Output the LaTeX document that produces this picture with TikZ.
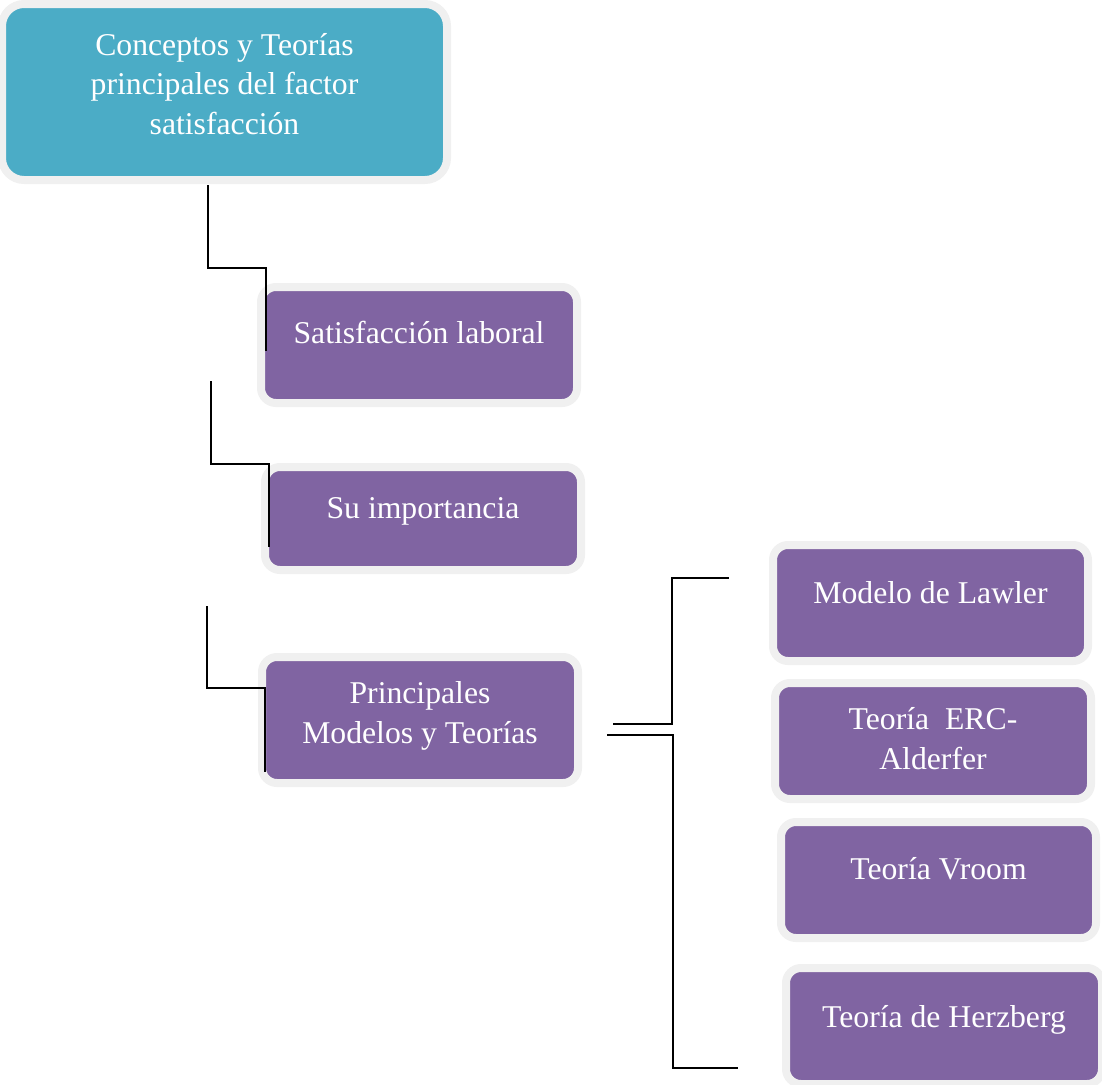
\documentclass[tikz,border=0pt]{standalone}
\usepackage{fontspec}
\setmainfont{Liberation Serif}
\usetikzlibrary{calc}

\definecolor{headfill}{HTML}{4BACC6}
\definecolor{itemfill}{HTML}{8064A2}
\definecolor{rimgray}{HTML}{F0F0F0}

\begin{document}
\begin{tikzpicture}[
  x=1pt, y=1pt,
  panel/.style={draw=rimgray, line width=8pt, rounded corners=15pt,
    fill=itemfill, inner sep=0pt, outer sep=0pt, anchor=north west,
    minimum width=316pt, minimum height=116pt},
  headpanel/.style={panel, fill=headfill, rounded corners=22pt},
  caption/.style={text=white, align=center, anchor=base, inner sep=0pt,
    font=\fontsize{31.7}{39.5}\selectfont},
  link/.style={draw=black, line width=2.8pt}
]
\useasboundingbox (0,0) rectangle (1102,-1084);

% title box (caption anchored on the baseline of its last line)
\node[headpanel, minimum width=445pt, minimum height=176pt] (top) at (2,-4) {};
\node[caption] (topt) at ($(top.north)+(0,-130)$)
  {Conceptos y Teorías\\principales del factor\\satisfacción};

% left column
\node[panel] (b1) at (261,-287) {};
\node[caption] (b1t) at ($(b1.north)+(0,-56)$) {Satisfacción laboral};

\node[panel, minimum height=103pt] (b2) at (265,-467) {};
\node[caption] (b2t) at ($(b2.north)+(0,-51)$) {Su importancia};

\node[panel, minimum height=126pt] (b3) at (262,-657) {};
\node[caption] (b3t) at ($(b3.north)+(0,-86)$) {Principales\\Modelos y Teorías};

% right column
\node[panel, minimum width=315pt] (m1) at (773,-545) {};
\node[caption] (m1t) at ($(m1.north)+(0,-58)$) {Modelo de Lawler};

\node[panel] (m2) at (775,-683) {};
\node[caption] (m2t) at ($(m2.north)+(0,-86)$) {Teoría\ \ ERC-\\Alderfer};

\node[panel, minimum width=315pt] (m3) at (781,-822) {};
\node[caption] (m3t) at ($(m3.north)+(0,-57)$) {Teoría Vroom};

\node[panel] (m4) at (786,-968) {};
\node[caption] (m4t) at ($(m4.north)+(0,-59)$) {Teoría de Herzberg};

% stepped connectors down the left column
\coordinate (c1a) at ($(top.south)+(-16.5,-5)$);
\coordinate (c1b) at ($(b1.north west)+(5,-64)$);
\draw[link] (c1a) -- ++(0,-83) -| (c1b);

\coordinate (c2a) at (211,-381);
\coordinate (c2b) at ($(b2.north west)+(4,-80)$);
\draw[link] (c2a) -- ++(0,-83) -| (c2b);

\coordinate (c3a) at (207,-606);
\coordinate (c3b) at ($(b3.north west)+(3,-115)$);
\draw[link] (c3a) -- ++(0,-82) -| (c3b);

% bracket towards the models
\coordinate (k1a) at (613,-724);
\coordinate (k1b) at (729,-578);
\draw[link] (k1a) -| (672,-578) -- (k1b);

\coordinate (k2a) at (607,-735);
\coordinate (k2b) at (738,-1068);
\draw[link] (k2a) -| (673,-1068) -- (k2b);
\end{tikzpicture}
\end{document}
